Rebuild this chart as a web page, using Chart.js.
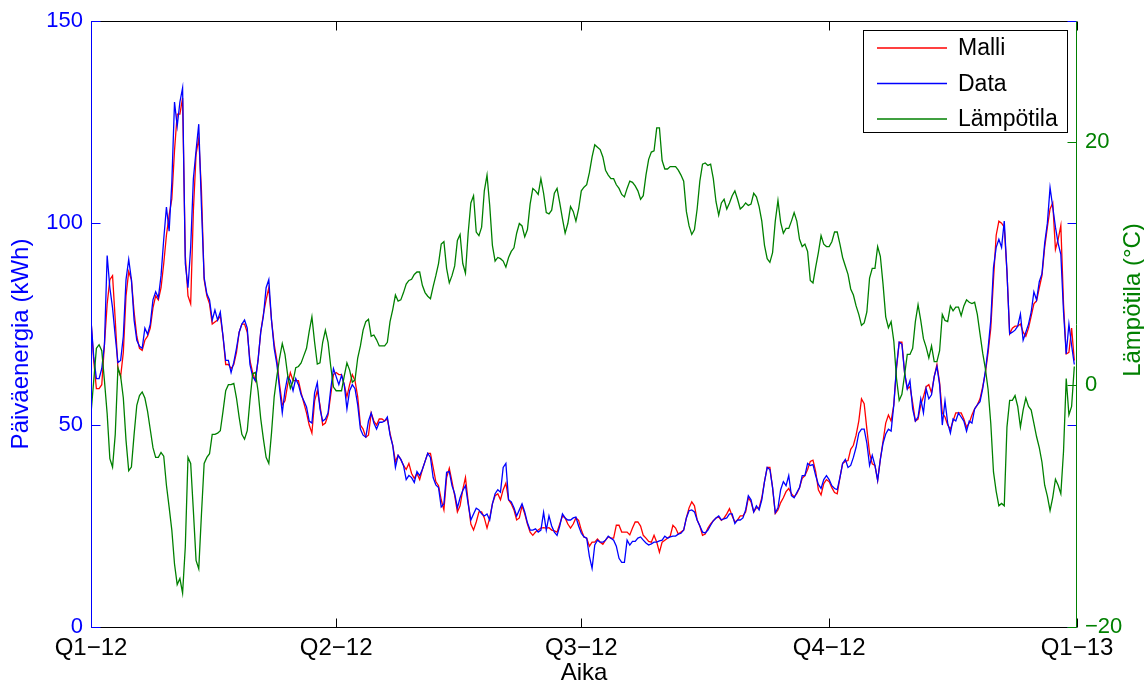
<!DOCTYPE html>
<html>
<head>
<meta charset="utf-8">
<script src="https://cdn.jsdelivr.net/npm/chart.js@4.4.1/dist/chart.umd.min.js"></script>
<style>
  html, body { margin: 0; padding: 0; background: #fff; }
  #chart { display: block; }
</style>
</head>
<body>
<canvas id="chart" width="1144" height="684"></canvas>
<script>
// Quarter ticks on the day axis (day 0 = 1.1.2012)
const quarterDays = [0, 91, 182, 274, 366];
const quarterLabels = ['Q1−12', 'Q2−12', 'Q3−12', 'Q4−12', 'Q1−13'];

// Left / right axis ticks
const energyTicks = [0, 50, 100, 150];
const tempTicks = [-20, 0, 20];

// Daily model energy (kWh)
const malli = [
  76, 66, 59, 59, 60, 70, 80, 86, 87, 76, 64, 62, 68, 82, 88, 86, 78, 72, 69, 68.5, 71, 72, 74, 79, 82, 81, 84, 90, 97, 102, 106,
  118, 127, 127, 131, 92, 82, 80, 103, 117, 121, 108, 86, 82, 80, 75, 75.5, 76, 77, 72, 65, 65, 64, 65, 68, 73, 75, 75, 73, 66, 63,
  61, 66, 73, 77.5, 81, 84, 76, 70, 66, 60, 55, 56, 60, 63, 61, 61, 61, 58, 55.5, 53, 50, 48, 56, 58.5, 55, 50, 50.5, 52.5, 57.5, 62.5, 63,
  62.5, 62.5, 60, 57, 60, 62.5, 61, 57, 50, 49, 47, 47.5, 53, 51, 50, 51.5, 51.5, 51, 51.5, 48, 45, 41, 42.5, 41.5, 40, 39, 40.5, 38, 36.8, 38,
  36.5, 39, 41, 43, 43, 39.5, 36, 35, 31.5, 29, 37, 39.3, 36, 32.5, 28.5, 30, 34, 37, 31, 25.5, 24, 26, 28.5, 28.5, 27, 24.5, 27, 30.5, 32.5, 33,
  31.5, 34, 35.6, 31.5, 30.5, 29, 26.5, 27, 30, 28, 25.5, 23.5, 22.7, 23.5, 24, 24.5, 24.6, 24.5, 24.6, 24, 23.8, 23.5, 25.5, 27.5, 27, 25.5, 24.5, 25.5, 27, 26.4, 24,
  22.3, 22, 20, 21, 21, 21.8, 21, 20.5, 21.5, 22.3, 22, 22, 25.2, 25.2, 23.5, 23.5, 23.5, 22.8, 24.5, 26, 26, 25, 22.7, 22, 21.2, 21, 22.7, 21, 18.5, 21,
  21.5, 22, 22.5, 25.2, 24.5, 23, 23.5, 24, 27, 29.5, 31, 30, 26.5, 25, 22.7, 23, 24.5, 25.5, 26.3, 27, 27.2, 26.4, 27, 28, 29.3, 27.5, 26, 26.5, 27.5, 27.5, 28.5,
  32, 31, 28.5, 29.5, 29.5, 32, 36, 39.5, 39.5, 34.5, 28.1, 29, 30.8, 32, 33.5, 34.3, 33, 32.2, 33, 34.5, 36.8, 37.5, 39, 41, 41.3, 38.5, 34, 32.7, 35.5, 36.5,
  36, 34.5, 33.3, 33, 37, 40.5, 41, 41.2, 44, 45, 47.5, 51, 56.5, 55.3, 49, 43, 40.4, 40, 36.3, 41.5, 46, 50.5, 52.5, 51, 55, 64, 70.5, 70.5, 63, 59, 59.5,
  55.5, 51, 51.5, 55, 57, 59.5, 60, 58, 62, 65, 60.5, 53, 52, 50, 49, 51, 53, 53, 53, 51.5, 49.5, 50.5, 52.5, 54, 55, 56.5, 59.5, 63, 68, 74,
  86, 97, 100.5, 100, 99, 88, 72.6, 74, 74.5, 74.5, 75, 73, 72, 74, 77, 80, 80.8, 84, 87, 94, 99, 103.5, 105, 93.5, 96, 99.4, 80, 67.6, 68, 74, 66
];

// Daily measured energy (kWh)
const mittaus = [
  76, 67, 61.5, 61.5, 64, 70, 92, 84, 79, 72, 65.5, 66, 72, 86, 91, 86, 76, 71, 69.5, 69, 74, 72.5, 75, 81, 83, 81.5, 87, 96, 104, 98, 110,
  130, 124, 130, 133.5, 90, 84, 94, 111, 118, 124.5, 104, 86.5, 82.5, 81, 76, 78.5, 76, 78, 72, 66, 66, 63, 65.5, 69, 73, 75, 76, 74, 65, 62,
  61, 66, 73, 77, 84, 86, 76, 69, 65, 59, 53, 58.5, 62, 61, 58.5, 61.5, 60, 57.5, 56, 54.5, 51, 50.5, 58, 60.5, 54, 51, 51.5, 53, 59, 64, 62,
  60, 62.3, 60, 54, 58.5, 60, 59, 55, 49, 47.5, 47, 51, 53, 50.5, 49, 50.7, 50.7, 51, 52, 47.5, 45, 39.5, 42.5, 41.5, 40, 36.5, 37.5, 37, 35.8, 38.5,
  37.5, 39, 41, 43, 42, 37, 35.2, 34.5, 29.7, 30.5, 38.3, 38.5, 35, 33, 29.5, 32, 33.8, 35, 30.5, 26.5, 28, 29.4, 29, 28, 27.5, 28, 26.5, 30.5, 33, 34,
  33.4, 39.5, 40.5, 31.5, 31, 29.5, 27.5, 29, 30.5, 28.5, 25.8, 24, 24, 24.3, 23.5, 24, 28.4, 24, 27.5, 25, 23.5, 22.7, 25, 28, 27, 26.5, 26.5, 27, 27.2, 25, 23.2,
  22.3, 22, 17.5, 14.5, 20.3, 21.5, 21, 21, 21.5, 22.5, 22, 21.5, 20, 17, 16, 16, 21.5, 20.3, 21.2, 21.2, 22, 22.3, 21.5, 20.8, 20.3, 20.6, 21, 21, 21.3, 21.5,
  22.5, 22, 22.3, 22.5, 22.5, 23, 23.2, 24, 27, 28.8, 29, 28.5, 26.5, 25, 23.5, 23.3, 24, 25.2, 26.3, 27, 27.5, 26.5, 26.8, 27, 28, 28, 25.6, 26.5, 26.5, 27, 29,
  32.5, 31.5, 28.5, 30, 29, 31.5, 36, 39.5, 39, 34.5, 28.3, 29.5, 34, 36, 35, 37.5, 32.5, 32, 33.3, 34.5, 37.5, 37.5, 40.5, 40, 40.2, 37.5, 35.3, 34.3, 36.5, 37.5,
  36.5, 35, 34.3, 34, 37, 40.5, 41.5, 39.5, 40, 42, 44.5, 48, 49, 49, 45.5, 40, 42.5, 40, 36.3, 41.5, 45.5, 47.8, 49, 48.5, 55, 64.5, 70.5, 70, 63, 59, 61,
  54, 51, 52, 56.5, 53, 59, 56.5, 57.5, 62, 64.5, 60, 50, 56, 50.5, 48, 51.5, 51, 53, 52, 51, 48.5, 51, 50.5, 54, 55, 55.8, 59, 63.5, 69, 76,
  89, 94, 96, 94, 100.5, 88, 72.6, 73, 73.5, 74.5, 77.5, 71, 73, 75, 78, 83, 81, 85.5, 87.5, 95, 100, 108.8, 104, 99, 95, 92.3, 78, 67.6, 75, 69.7, 65
];

// Daily mean outdoor temperature (°C)
const lampotila = [
  -2.4, 0.3, 3.0, 3.3, 2.8, 0.3, -2.4, -6.1, -6.8, -4.1, 1.4, 0.7, -1.1, -4.6, -7.1, -6.8, -4.1, -1.7, -0.9, -0.6, -1.1, -2.2, -3.7, -5.2, -6.0, -6.0, -5.6, -5.9, -8.3, -10.1, -12.0,
  -14.8, -16.5, -16.0, -17.2, -13.4, -6.0, -6.5, -10.4, -14.5, -15.2, -10.7, -6.5, -6.0, -5.7, -4.1, -4.1, -4.0, -3.8, -2.2, -0.5, 0.0, 0.0, 0.1, -1.1, -2.7, -4.1, -4.5, -3.8, -1.3, 0.9,
  1.0, -0.5, -2.8, -4.5, -6.0, -6.5, -4.0, -1.0, 0.7, 2.2, 3.4, 2.5, 0.8, -0.3, 0.3, 1.4, 1.5, 1.8, 2.4, 3.0, 4.4, 5.6, 3.5, 1.7, 1.8, 3.5, 4.5, 3.5, 1.5, -0.2, -0.5,
  -0.5, -0.5, 0.7, 1.8, 1.2, 0.2, 0.4, 2.2, 3.2, 4.5, 5.2, 5.4, 4.0, 4.1, 3.7, 3.2, 3.2, 3.2, 3.5, 5.2, 6.2, 7.4, 6.9, 7.0, 7.6, 8.3, 8.6, 8.7, 9.1, 9.3,
  9.3, 8.2, 7.6, 7.3, 7.1, 8.1, 9.0, 10.0, 11.6, 11.8, 9.6, 8.4, 9.0, 9.8, 11.9, 12.4, 10.0, 9.2, 12.5, 15.0, 15.6, 12.6, 12.3, 13.0, 16.0, 17.3, 14.8, 11.5, 10.2, 10.5,
  10.4, 10.2, 9.7, 10.5, 11.0, 11.3, 12.5, 13.3, 13.1, 12.2, 12.8, 14.9, 16.2, 16.0, 15.7, 17.0, 15.8, 14.2, 14.1, 14.4, 15.8, 16.2, 15.0, 13.7, 12.5, 13.3, 14.7, 14.3, 13.5, 14.5, 16.0,
  16.3, 16.5, 17.5, 18.8, 19.8, 19.6, 19.4, 18.8, 17.7, 17.3, 17.0, 17.0, 16.5, 16.2, 15.7, 15.5, 16.2, 16.8, 16.7, 16.4, 16.0, 15.3, 15.6, 17.3, 18.6, 19.2, 19.3, 21.2, 21.2, 18.5,
  17.8, 17.8, 18.0, 18.0, 18.0, 17.7, 17.3, 16.8, 14.3, 13.1, 12.4, 12.8, 14.5, 16.8, 18.2, 18.3, 18.1, 18.2, 17.0, 15.1, 14.0, 15.0, 15.3, 14.5, 15.0, 15.6, 16.0, 15.3, 14.5, 14.7, 15.0,
  14.8, 14.9, 15.8, 15.5, 14.7, 13.5, 11.5, 10.4, 10.1, 10.9, 13.5, 15.2, 13.4, 12.5, 12.9, 12.9, 13.5, 14.2, 13.5, 12.0, 11.4, 11.6, 11.0, 8.6, 8.4, 9.7, 10.9, 12.3, 11.6, 11.4,
  11.4, 11.8, 12.6, 12.6, 11.6, 10.5, 9.8, 9.1, 7.9, 7.4, 6.5, 5.8, 4.9, 5.1, 6.0, 8.8, 9.6, 9.6, 11.4, 10.6, 8.3, 5.6, 4.7, 5.2, 3.6, 0.5, -1.3, -0.8, 0.8, 2.5, 2.5,
  3.0, 5.2, 6.6, 5.3, 3.8, 3.1, 2.2, 3.2, 1.9, 1.9, 2.8, 5.8, 5.3, 5.2, 6.5, 6.1, 6.4, 6.4, 5.7, 6.5, 7.0, 6.8, 6.7, 6.8, 5.8, 4.2, 2.6, 1.3, -0.4, -3.2,
  -7.2, -8.8, -10.0, -9.8, -10.0, -3.5, -1.3, -1.3, -0.9, -1.8, -3.5, -2.1, -1.1, -1.8, -2.1, -3.2, -4.3, -5.2, -6.4, -8.3, -9.2, -10.4, -9.3, -7.8, -8.3, -9.0, -5.5, 0.5, -2.5, -1.8, 1.5
];

const BLUE = '#0000ff';
const RED = '#ff0000';
const GREEN = '#008000';
const FONT_FAMILY = '"Liberation Sans", Arial, Helvetica, sans-serif';
const tickFont = { family: FONT_FAMILY, size: 22 };
const quarterFont = { family: FONT_FAMILY, size: 24 };
const labelFont = { family: FONT_FAMILY, size: 24 };

function toPoints(values) {
    return values.map((v, i) => ({ x: i, y: v }));
}

function minusSign(v) {
    return v < 0 ? '−' + Math.abs(v) : String(v);
}

function drawVerticalText(ctx, text, x, y, color) {
    ctx.save();
    ctx.font = labelFont.size + 'px ' + FONT_FAMILY;
    ctx.fillStyle = color;
    ctx.textAlign = 'center';
    ctx.textBaseline = 'middle';
    ctx.translate(x, y);
    ctx.rotate(-Math.PI / 2);
    ctx.fillText(text, 0, 0);
    ctx.restore();
}

// Box, inward tick marks, y-axis labels and the legend, MATLAB style
const matlabAxes = {
    id: 'matlabAxes',
    afterDatasetsDraw(chart) {
        const { ctx, chartArea: a, scales } = chart;
        const px = (v) => Math.round(v) + 0.5;
        const tl = 9;
        const L = px(a.left), R = px(a.right - 1), T = px(a.top), B = px(a.bottom);

        ctx.save();
        ctx.lineWidth = 1;

        // x ticks, bottom and top
        ctx.strokeStyle = '#000';
        ctx.beginPath();
        quarterDays.forEach((d) => {
            const x = px(scales.x.getPixelForValue(d));
            ctx.moveTo(x, B); ctx.lineTo(x, B - tl);
            ctx.moveTo(x, T); ctx.lineTo(x, T + tl);
        });
        ctx.moveTo(L, B); ctx.lineTo(R, B);
        ctx.moveTo(L, T); ctx.lineTo(R, T);
        ctx.stroke();

        // energy ticks on both sides
        ctx.strokeStyle = BLUE;
        ctx.beginPath();
        energyTicks.forEach((v) => {
            const y = px(scales.y.getPixelForValue(v));
            ctx.moveTo(L, y); ctx.lineTo(L + tl, y);
            ctx.moveTo(R, y); ctx.lineTo(R - tl, y);
        });
        ctx.moveTo(L, T); ctx.lineTo(L, B);
        ctx.stroke();

        // temperature ticks on the right
        ctx.strokeStyle = GREEN;
        ctx.beginPath();
        tempTicks.forEach((v) => {
            const y = px(scales.y2.getPixelForValue(v));
            ctx.moveTo(R, y); ctx.lineTo(R - tl, y);
        });
        ctx.moveTo(R, T); ctx.lineTo(R, B);
        ctx.stroke();
        ctx.restore();
    },
    afterDraw(chart) {
        const { ctx } = chart;

        drawVerticalText(ctx, 'Päiväenergia (kWh)', 21, 344, BLUE);
        drawVerticalText(ctx, 'Lämpötila (°C)', 1133, 300, GREEN);

        // legend box
        ctx.save();
        const box = { x: 863.5, y: 30.5, w: 204, h: 102 };
        ctx.fillStyle = '#fff';
        ctx.fillRect(box.x, box.y, box.w, box.h);
        ctx.strokeStyle = '#000';
        ctx.lineWidth = 1;
        ctx.strokeRect(box.x, box.y, box.w, box.h);

        const entries = ['Malli', 'Data', 'Lämpötila'];
        ctx.font = '23px ' + FONT_FAMILY;
        ctx.textAlign = 'left';
        ctx.textBaseline = 'middle';
        entries.forEach((name, i) => {
            const ds = chart.data.datasets.find((d) => d.label === name);
            const y = 48 + i * 35.5;
            ctx.strokeStyle = ds.borderColor;
            ctx.lineWidth = 1.3;
            ctx.beginPath();
            ctx.moveTo(877, y);
            ctx.lineTo(947, y);
            ctx.stroke();
            ctx.fillStyle = '#000';
            ctx.fillText(name, 958, y + 1);
        });
        ctx.restore();
    }
};

new Chart(document.getElementById('chart'), {
    type: 'line',
    data: {
        datasets: [
            { label: 'Lämpötila', data: toPoints(lampotila), yAxisID: 'y2', borderColor: GREEN, order: 0 },
            { label: 'Data', data: toPoints(mittaus), yAxisID: 'y', borderColor: BLUE, order: 1 },
            { label: 'Malli', data: toPoints(malli), yAxisID: 'y', borderColor: RED, order: 2 }
        ]
    },
    options: {
        responsive: false,
        animation: false,
        devicePixelRatio: 1,
        layout: { padding: { left: 0, right: 0, top: 20, bottom: 0 } },
        elements: {
            line: { borderWidth: 1.3, tension: 0, fill: false },
            point: { radius: 0, hoverRadius: 0 }
        },
        plugins: {
            legend: { display: false },
            tooltip: { enabled: false }
        },
        scales: {
            x: {
                type: 'linear',
                min: 0,
                max: 366,
                afterBuildTicks: (s) => { s.ticks = quarterDays.map((v) => ({ value: v })); },
                afterFit: (s) => { s.height = 57; },
                grid: { display: false, drawTicks: false },
                border: { display: false },
                ticks: {
                    color: '#000',
                    font: quarterFont,
                    padding: 7,
                    autoSkip: false,
                    maxRotation: 0,
                    callback: (v, i) => quarterLabels[i]
                },
                title: { display: true, text: 'Aika', color: '#000', font: labelFont, padding: { top: 0, bottom: -4 } }
            },
            y: {
                position: 'left',
                min: 0,
                max: 150,
                afterBuildTicks: (s) => { s.ticks = energyTicks.map((v) => ({ value: v })); },
                afterFit: (s) => { s.width = 91; },
                grid: { display: false, drawTicks: false },
                border: { display: false },
                ticks: { color: BLUE, font: tickFont, padding: 8 }
            },
            y2: {
                position: 'right',
                min: -20,
                max: 30,
                afterBuildTicks: (s) => { s.ticks = tempTicks.map((v) => ({ value: v })); },
                afterFit: (s) => { s.width = 67; },
                grid: { display: false, drawTicks: false },
                border: { display: false },
                ticks: { color: GREEN, font: tickFont, padding: 8, callback: (v) => minusSign(v) }
            }
        }
    },
    plugins: [matlabAxes]
});
</script>
</body>
</html>
